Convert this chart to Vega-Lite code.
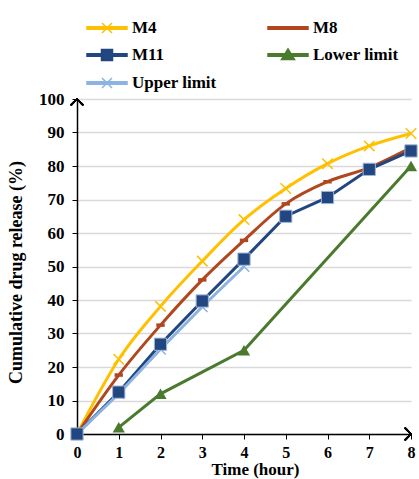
{
  "$schema": "https://vega.github.io/schema/vega-lite/v6.json",
  "width": 334,
  "height": 335,
  "autosize": "none",
  "padding": {"left": 77, "top": 99, "right": 8, "bottom": 45},
  "background": "white",
  "config": {
    "view": {"stroke": null},
    "font": "Liberation Serif",
    "axis": {"labelFont": "Liberation Serif", "titleFont": "Liberation Serif", "labelFontWeight": "bold", "titleFontWeight": "bold", "labelColor": "black", "titleColor": "black", "labelFontSize": 17, "titleFontSize": 18},
    "legend": {"labelFont": "Liberation Serif", "labelFontWeight": "bold", "labelFontSize": 17, "labelColor": "black"}
  },
  "data": {"values": [
    {"series": "M4", "time": 0, "value": 0},
    {"series": "M4", "time": 1, "value": 22.3},
    {"series": "M4", "time": 2, "value": 38.1},
    {"series": "M4", "time": 3, "value": 51.6},
    {"series": "M4", "time": 4, "value": 64},
    {"series": "M4", "time": 5, "value": 73.3},
    {"series": "M4", "time": 6, "value": 80.7},
    {"series": "M4", "time": 7, "value": 86},
    {"series": "M4", "time": 8, "value": 89.7},
    {"series": "M8", "time": 0, "value": 0},
    {"series": "M8", "time": 1, "value": 17.6},
    {"series": "M8", "time": 2, "value": 32.5},
    {"series": "M8", "time": 3, "value": 46},
    {"series": "M8", "time": 4, "value": 57.8},
    {"series": "M8", "time": 5, "value": 68.7},
    {"series": "M8", "time": 6, "value": 75.3},
    {"series": "M8", "time": 7, "value": 79.5},
    {"series": "M8", "time": 8, "value": 85.5},
    {"series": "M11", "time": 0, "value": 0},
    {"series": "M11", "time": 1, "value": 12.5},
    {"series": "M11", "time": 2, "value": 26.8},
    {"series": "M11", "time": 3, "value": 39.7},
    {"series": "M11", "time": 4, "value": 52.2},
    {"series": "M11", "time": 5, "value": 65},
    {"series": "M11", "time": 6, "value": 70.6},
    {"series": "M11", "time": 7, "value": 79},
    {"series": "M11", "time": 8, "value": 84.5},
    {"series": "Lower limit", "time": 1, "value": 2},
    {"series": "Lower limit", "time": 2, "value": 12},
    {"series": "Lower limit", "time": 4, "value": 25},
    {"series": "Lower limit", "time": 8, "value": 80},
    {"series": "Upper limit", "time": 0, "value": 0},
    {"series": "Upper limit", "time": 1, "value": 12},
    {"series": "Upper limit", "time": 2, "value": 25.3},
    {"series": "Upper limit", "time": 3, "value": 38},
    {"series": "Upper limit", "time": 4, "value": 50}
  ]},
  "encoding": {
    "x": {"field": "time", "type": "quantitative", "scale": {"domain": [0, 8], "nice": false},
      "axis": {"title": "Time (hour)", "titleFontSize": 17, "labelFontSize": 16, "values": [0,1,2,3,4,5,6,7,8], "grid": false, "domainColor": "black", "domainWidth": 1.5, "tickColor": "black", "tickSize": 5, "tickWidth": 1, "labelPadding": 5, "titlePadding": 1, "titleX": 178, "labelFlush": false}},
    "y": {"field": "value", "type": "quantitative", "scale": {"domain": [0, 100], "nice": false},
      "axis": {"title": "Cumulative drug release (%)", "values": [0,10,20,30,40,50,60,70,80,90,100], "grid": true, "gridColor": "#d9d9d9", "gridWidth": 1.5, "domainColor": "black", "domainWidth": 1.5, "tickColor": "black", "tickSize": 5, "labelPadding": 8, "titlePadding": 13, "titleY": 173, "labelFlush": false}}
  },
  "layer": [
    {
      "transform": [{"filter": "datum.series === 'M4' || datum.series === 'M8'"}],
      "mark": {"type": "line", "interpolate": "monotone", "strokeWidth": 3, "clip": false},
      "encoding": {
        "color": {"field": "series", "type": "nominal",
          "scale": {"domain": ["M4", "M8", "M11", "Lower limit", "Upper limit"], "range": ["#FFC000", "#B0471F", "#22467F", "#4A7A2E", "#8DB3E2"]},
          "legend": {"title": null, "orient": "none", "direction": "horizontal", "legendX": 19, "legendY": -82, "columns": 2, "columnPadding": 48, "rowPadding": 8, "symbolSize": 400, "labelOffset": 14, "padding": 0,
            "encode": {"symbols": {"update": {
              "shape": {"signal": "(datum.value === 'M4' || datum.value === 'Upper limit') ? 'M-2,-0.12L2,-0.12L2,0.12L-2,0.12ZM-0.5,-0.5L0.5,0.5M-0.5,0.5L0.5,-0.5' : datum.value === 'M8' ? 'M-2,-0.12L2,-0.12L2,0.12L-2,0.12Z' : datum.value === 'M11' ? 'M-2,-0.12L2,-0.12L2,0.12L-2,0.12ZM-0.55,-0.55L0.55,-0.55L0.55,0.55L-0.55,0.55Z' : 'M-2,-0.12L2,-0.12L2,0.12L-2,0.12ZM0,-0.6L0.65,0.45L-0.65,0.45Z'"},
              "fill": {"scale": "color", "field": "value"},
              "stroke": {"scale": "color", "field": "value"},
              "strokeWidth": {"value": 1.5},
              "opacity": {"value": 1}
            }}}}}
      }
    },
    {
      "transform": [{"filter": "datum.series === 'M11' || datum.series === 'Lower limit' || datum.series === 'Upper limit'"}],
      "mark": {"type": "line", "strokeWidth": 3, "clip": false},
      "encoding": {"color": {"field": "series", "type": "nominal"}}
    },
    {
      "transform": [{"filter": "datum.series === 'M4'"}],
      "mark": {"type": "point", "shape": "M-1,-1L1,1M-1,1L1,-1", "filled": false, "stroke": "#FFC000", "strokeWidth": 1.5, "size": 110, "opacity": 1, "clip": false}
    },
    {
      "transform": [{"filter": "datum.series === 'Upper limit'"}],
      "mark": {"type": "point", "shape": "M-1,-1L1,1M-1,1L1,-1", "filled": false, "stroke": "#8DB3E2", "strokeWidth": 1.5, "size": 110, "opacity": 1, "clip": false}
    },
    {
      "transform": [{"filter": "datum.series === 'M8'"}],
      "mark": {"type": "point", "shape": "M-1,0L1,0", "filled": false, "stroke": "#B0471F", "strokeWidth": 3.5, "size": 70, "opacity": 1, "clip": false}
    },
    {
      "transform": [{"filter": "datum.series === 'M11'"}],
      "mark": {"type": "point", "shape": "square", "filled": true, "fill": "#22467F", "stroke": "#9fb6d8", "strokeWidth": 1, "size": 150, "opacity": 1, "clip": false}
    },
    {
      "transform": [{"filter": "datum.series === 'Lower limit'"}],
      "mark": {"type": "point", "shape": "triangle-up", "filled": true, "fill": "#4A7A2E", "size": 150, "opacity": 1, "clip": false}
    },
    {
      "mark": {"type": "point", "shape": "M-1,1L0,0L1,1", "filled": false, "stroke": "black", "strokeWidth": 1.5, "size": 150, "opacity": 1, "clip": false},
      "encoding": {"x": {"datum": 0}, "y": {"datum": 100}}
    },
    {
      "mark": {"type": "point", "shape": "M-1,-1L0,0L-1,1", "filled": false, "stroke": "black", "strokeWidth": 1.5, "size": 150, "opacity": 1, "clip": false},
      "encoding": {"x": {"datum": 8}, "y": {"datum": 0}}
    }
  ]
}
